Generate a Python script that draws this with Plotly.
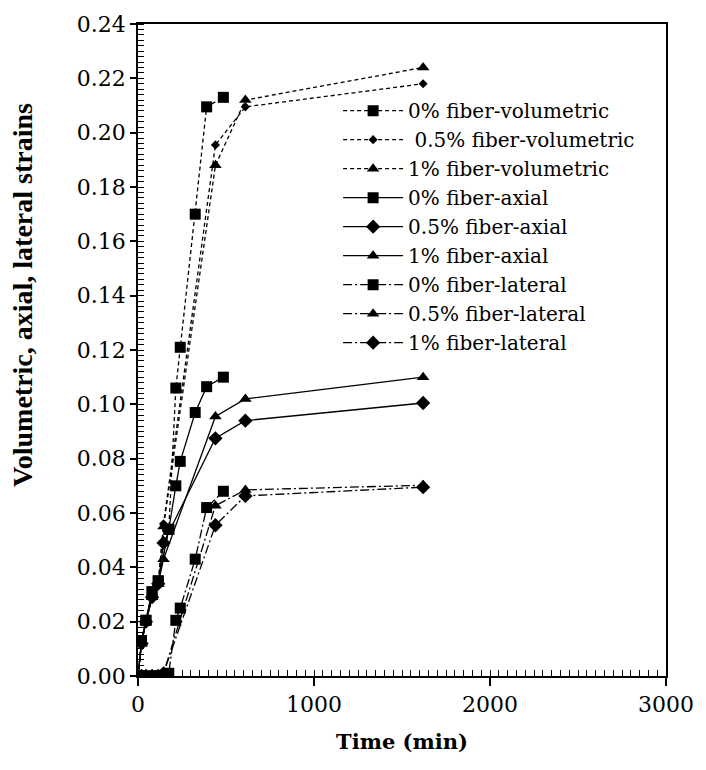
import plotly.graph_objects as go

# Time (min)
t_0pct = [0, 20, 45, 80, 115, 175, 215, 240, 325, 390, 485]
t_fiber = [0, 20, 45, 80, 115, 145, 440, 610, 1620]

# strains, 0% fiber
vol_0 = [0, 0.013, 0.0205, 0.031, 0.035, 0.054, 0.106, 0.121, 0.170, 0.2095, 0.213]
ax_0 = [0, 0.013, 0.0205, 0.031, 0.035, 0.054, 0.070, 0.079, 0.097, 0.1065, 0.110]
lat_0 = [0, 0, 0, 0, 0, 0.001, 0.0205, 0.025, 0.043, 0.062, 0.068]

# 0.5% and 1% fiber
vol_05 = [0, 0.012, 0.020, 0.029, 0.034, 0.056, 0.1955, 0.2095, 0.218]
vol_1 = [0, 0.012, 0.020, 0.029, 0.034, 0.055, 0.188, 0.212, 0.224]
ax_05 = [0, 0.012, 0.020, 0.029, 0.034, 0.049, 0.0875, 0.094, 0.1005]
ax_1 = [0, 0.012, 0.020, 0.029, 0.034, 0.043, 0.0955, 0.102, 0.110]
lat_05 = [0, 0, 0, 0, 0, 0.001, 0.0627, 0.0685, 0.0702]
lat_1 = [0, 0, 0, 0, 0, 0.001, 0.0555, 0.0663, 0.0695]

x_ticks = [0, 1000, 2000, 3000]
y_ticks = [0.00, 0.02, 0.04, 0.06, 0.08, 0.10, 0.12, 0.14, 0.16, 0.18, 0.20, 0.22, 0.24]

VOL_DASH = "4px,3px"
LAT_DASH = "9px,3px,2px,3px"

series = [
    ("0% fiber-volumetric", t_0pct, vol_0, VOL_DASH, "square", 11),
    (" 0.5% fiber-volumetric", t_fiber, vol_05, VOL_DASH, "diamond", 7),
    ("1% fiber-volumetric", t_fiber, vol_1, VOL_DASH, "triangle-up", 11),
    ("0% fiber-axial", t_0pct, ax_0, "solid", "square", 11),
    ("0.5% fiber-axial", t_fiber, ax_05, "solid", "diamond", 11),
    ("1% fiber-axial", t_fiber, ax_1, "solid", "triangle-up", 11),
    ("0% fiber-lateral", t_0pct, lat_0, LAT_DASH, "square", 11),
    ("0.5% fiber-lateral", t_fiber, lat_05, LAT_DASH, "triangle-up", 11),
    ("1% fiber-lateral", t_fiber, lat_1, LAT_DASH, "diamond", 11),
]

fig = go.Figure()
for name, xs, ys, dash, sym, size in series:
    fig.add_trace(go.Scatter(
        x=xs, y=ys, name=name, mode="lines+markers",
        line=dict(color="black", width=1.3, dash=dash),
        marker=dict(symbol=sym, size=size, color="black", line=dict(width=0)),
    ))

FONT = "DejaVu Serif"

fig.update_layout(
    width=706, height=770,
    margin=dict(l=138, r=30, t=14, b=94),
    paper_bgcolor="white", plot_bgcolor="white",
    font=dict(family=FONT, size=22, color="black"),
    showlegend=True,
    legend=dict(
        x=0.379, y=0.897, xanchor="left", yanchor="top",
        bgcolor="rgba(0,0,0,0)", borderwidth=0,
        font=dict(family=FONT, size=20, color="black"),
        itemwidth=60, tracegroupgap=0,
    ),
    xaxis=dict(
        range=[0, 3000], tickvals=x_ticks, ticktext=[str(v) for v in x_ticks],
        showline=True, linecolor="black", linewidth=1.5, mirror=True,
        ticks="outside", ticklen=8, tickcolor="black", tickwidth=1.5,
        minor=dict(dtick=50, ticks="inside", ticklen=6, tickcolor="black", tickwidth=1, showgrid=False),
        showgrid=False, zeroline=False,
        title=dict(text="<b>Time (min)</b>", font=dict(family=FONT, size=21), standoff=18),
    ),
    yaxis=dict(
        range=[0, 0.24], tickvals=y_ticks, ticktext=[f"{v:.2f}" for v in y_ticks],
        showline=True, linecolor="black", linewidth=1.5, mirror=True,
        ticks="outside", ticklen=6, tickcolor="black", tickwidth=1.5,
        minor=dict(dtick=0.002, ticks="inside", ticklen=6, tickcolor="black", tickwidth=1, showgrid=False),
        showgrid=False, zeroline=False,
    ),
    annotations=[dict(
        text="<b>Volumetric, axial, lateral strains</b>",
        xref="paper", yref="paper", x=-0.219, y=0.585, textangle=-90,
        showarrow=False, font=dict(family="Liberation Serif", size=28, color="black"),
        xanchor="center", yanchor="middle",
    )],
)

fig.write_html("out.html")
